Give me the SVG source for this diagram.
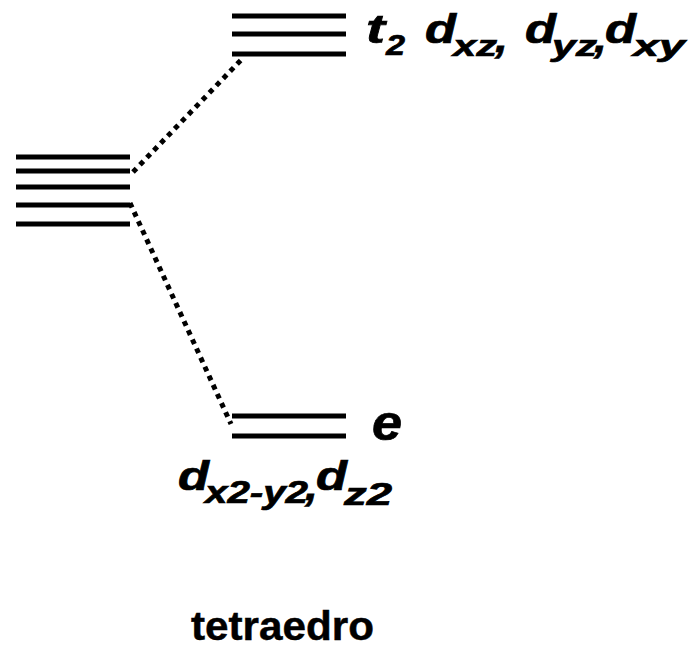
<svg xmlns="http://www.w3.org/2000/svg" width="691" height="651" viewBox="0 0 691 651">
<style>
.lvl{stroke:#000;stroke-width:5;fill:none}
.dot{stroke:#000;stroke-width:5;stroke-dasharray:5 5;fill:none}
.lbl{font-family:"Liberation Sans",Arial,sans-serif;font-weight:bold;font-style:italic;fill:#000;stroke:#000;stroke-width:0.7}
.m{font-size:41px}
.s{font-size:29px}
</style>
<rect width="691" height="651" fill="#fff"/>
<g id="free-ion">
<line class="lvl" x1="16" y1="157" x2="130" y2="157"/>
<line class="lvl" x1="16" y1="171" x2="130" y2="171"/>
<line class="lvl" x1="16" y1="187" x2="130" y2="187"/>
<line class="lvl" x1="16" y1="205" x2="130" y2="205"/>
<line class="lvl" x1="16" y1="224" x2="130" y2="224"/>
</g>
<g id="t2">
<line class="lvl" x1="232" y1="16" x2="346" y2="16"/>
<line class="lvl" x1="232" y1="34" x2="346" y2="34"/>
<line class="lvl" x1="232" y1="54" x2="346" y2="54"/>
<text class="lbl m" x="366" y="43" textLength="19" lengthAdjust="spacingAndGlyphs">t</text>
<text class="lbl s" x="386" y="55" textLength="19" lengthAdjust="spacingAndGlyphs">2</text>
<text class="lbl m" x="425" y="43" textLength="31" lengthAdjust="spacingAndGlyphs">d</text>
<text class="lbl s" x="453" y="56" textLength="44" lengthAdjust="spacingAndGlyphs">xz</text>
<text class="lbl m" x="495" y="52" textLength="13" lengthAdjust="spacingAndGlyphs">,</text>
<text class="lbl m" x="525" y="43" textLength="31" lengthAdjust="spacingAndGlyphs">d</text>
<text class="lbl s" x="552" y="56" textLength="45" lengthAdjust="spacingAndGlyphs">yz</text>
<text class="lbl m" x="594" y="52" textLength="13" lengthAdjust="spacingAndGlyphs">,</text>
<text class="lbl m" x="605" y="43" textLength="31" lengthAdjust="spacingAndGlyphs">d</text>
<text class="lbl s" x="633" y="56" textLength="52" lengthAdjust="spacingAndGlyphs">xy</text>
</g>
<g id="e">
<line class="lvl" x1="232" y1="416" x2="346" y2="416"/>
<line class="lvl" x1="232" y1="436" x2="346" y2="436"/>
<text class="lbl" font-size="50" x="372" y="440" textLength="30" lengthAdjust="spacingAndGlyphs">e</text>
<text class="lbl m" x="178" y="490" textLength="31" lengthAdjust="spacingAndGlyphs">d</text>
<text class="lbl" font-size="31" x="205" y="503" textLength="103" lengthAdjust="spacingAndGlyphs">x2-y2</text>
<text class="lbl m" x="305" y="500" textLength="13" lengthAdjust="spacingAndGlyphs">,</text>
<text class="lbl m" x="316" y="490" textLength="31" lengthAdjust="spacingAndGlyphs">d</text>
<text class="lbl" font-size="31" x="344" y="505" textLength="48" lengthAdjust="spacingAndGlyphs">z2</text>
</g>
<g id="connectors">
<line class="dot" x1="133" y1="172" x2="241" y2="60"/>
<line class="dot" x1="130" y1="203" x2="231" y2="424"/>
</g>
<text id="title" x="191" y="640" textLength="183" lengthAdjust="spacingAndGlyphs" font-family="Liberation Sans,Arial,sans-serif" font-weight="bold" font-size="41" stroke="#000" stroke-width="0.5">tetraedro</text>
</svg>
